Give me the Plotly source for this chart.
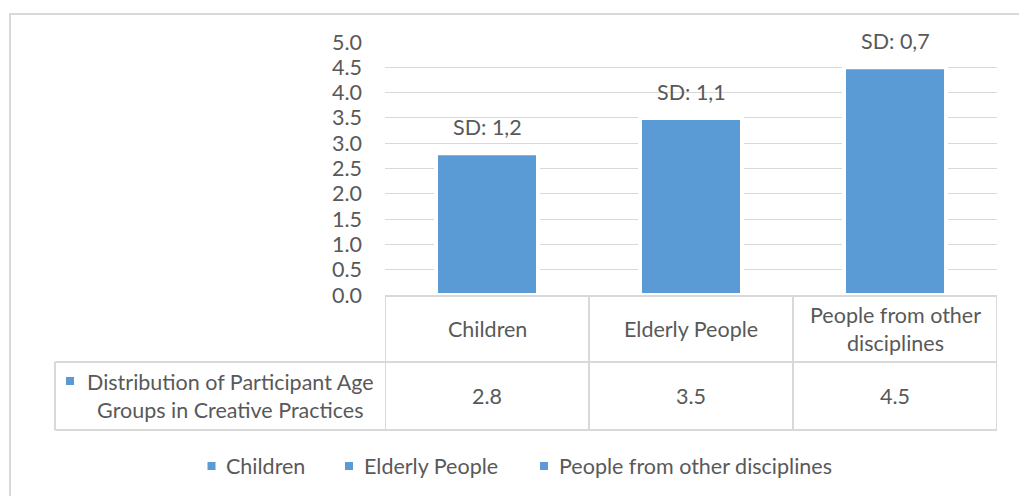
import plotly.graph_objects as go

# Data
categories = ["Children", "Elderly People", "People from other disciplines"]
header_labels = ["Children", "Elderly People", "People from other<br>disciplines"]
means = [2.8, 3.5, 4.5]
sd_labels = ["SD: 1,2", "SD: 1,1", "SD: 0,7"]
series_name = "Distribution of Participant Age<br>Groups in Creative Practices"
y_ticks = [0.0, 0.5, 1.0, 1.5, 2.0, 2.5, 3.0, 3.5, 4.0, 4.5, 5.0]

W, H = 1019, 496
BLUE = "#5B9BD5"
GRID = "#D9D9D9"
TEXT = "#595959"
FONT = "Lato"
FS = 21.5


def px(x):
    return x / W


def py(y):
    return 1 - y / H


fig = go.Figure()
fig.add_trace(go.Bar(
    x=categories, y=means, width=0.5,
    marker=dict(color=BLUE, line=dict(color="white", width=4)),
    showlegend=False, hoverinfo="x+y",
))

shapes = []
annotations = []

# SD labels above each bar
for c, v, s in zip(categories, means, sd_labels):
    annotations.append(dict(x=c, y=v, xref="x", yref="y", text=s, showarrow=False,
                            yanchor="middle", yshift=26,
                            font=dict(family=FONT, size=FS, color=TEXT)))

# Data table under the plot
T_TOP, T_MID, T_BOT = 296, 362, 430
T_LEFT = 55
line = dict(color=GRID, width=2)
shapes.append(dict(type="line", xref="x", yref="paper", x0=-0.5, x1=2.5,
                   y0=py(T_TOP), y1=py(T_TOP), line=line))
for yy in (T_MID, T_BOT):
    shapes.append(dict(type="line", xref="paper", yref="paper", x0=px(T_LEFT), x1=px(997),
                       y0=py(yy), y1=py(yy), line=line))
shapes.append(dict(type="line", xref="paper", yref="paper", x0=px(T_LEFT), x1=px(T_LEFT),
                   y0=py(T_MID), y1=py(T_BOT), line=line))
for xb in (-0.5, 0.5, 1.5, 2.5):
    shapes.append(dict(type="line", xref="x", yref="paper", x0=xb, x1=xb,
                       y0=py(T_TOP), y1=py(T_BOT), line=line))

for c, lab, v in zip(categories, header_labels, means):
    annotations.append(dict(x=c, y=py((T_TOP + T_MID) / 2), xref="x", yref="paper",
                            text=lab, showarrow=False, yanchor="middle",
                            font=dict(family=FONT, size=FS, color=TEXT)))
    annotations.append(dict(x=c, y=py((T_MID + T_BOT) / 2), xref="x", yref="paper",
                            text=f"{v:.1f}", showarrow=False, yanchor="middle",
                            font=dict(family=FONT, size=FS, color=TEXT)))

# Series key in the table
shapes.append(dict(type="rect", xref="paper", yref="paper", x0=px(66), x1=px(74),
                   y0=py(377), y1=py(385), fillcolor=BLUE, line=dict(width=0)))
annotations.append(dict(x=px(230), y=py(396), xref="paper", yref="paper", text=series_name,
                        showarrow=False, yanchor="middle", xanchor="center", align="center",
                        font=dict(family=FONT, size=FS, color=TEXT)))

# Legend
for cx, tx, name in zip((211.5, 349, 544), (224, 361.5, 557), categories):
    shapes.append(dict(type="rect", xref="paper", yref="paper", x0=px(cx - 4), x1=px(cx + 4),
                       y0=py(462), y1=py(470), fillcolor=BLUE, line=dict(width=0)))
    annotations.append(dict(x=px(tx), y=py(466), xref="paper", yref="paper", text=name,
                            showarrow=False, xanchor="left", yanchor="middle",
                            font=dict(family=FONT, size=FS, color=TEXT)))

# Chart frame
shapes.append(dict(type="rect", xref="paper", yref="paper", x0=px(10), x1=px(1040),
                   y0=py(14), y1=py(520), line=dict(color=GRID, width=2), layer="below"))

fig.update_layout(
    width=W, height=H,
    margin=dict(l=0, r=0, t=0, b=0, autoexpand=False),
    paper_bgcolor="white", plot_bgcolor="white",
    bargap=0.5,
    xaxis=dict(domain=[px(385), px(997)], range=[-0.5, 2.5], showticklabels=False,
               showgrid=False, zeroline=False, showline=False, fixedrange=True,
               automargin=False),
    yaxis=dict(domain=[py(295), py(42)], range=[0, 5], tickvals=y_ticks,
               ticktext=[f"{t:.1f}" for t in y_ticks], showgrid=True, gridcolor=GRID,
               gridwidth=1.3, zeroline=False, showline=False, ticklabelstandoff=22,
               tickfont=dict(family=FONT, size=FS, color=TEXT), fixedrange=True,
               automargin=False),
    shapes=shapes,
    annotations=annotations,
    showlegend=False,
)

fig.write_html("out.html")
